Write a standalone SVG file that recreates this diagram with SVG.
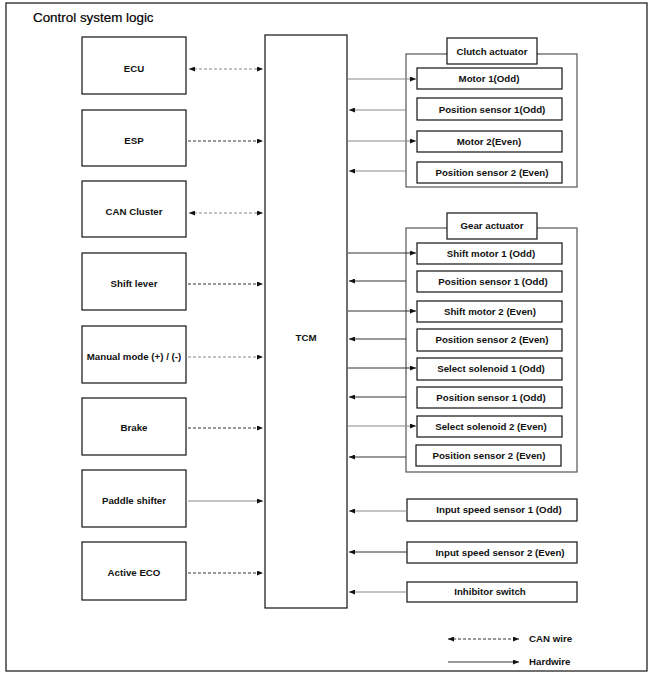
<svg xmlns="http://www.w3.org/2000/svg" width="654" height="678" viewBox="0 0 654 678">
<style>
text{font-family:"Liberation Sans",Arial,sans-serif;font-weight:bold;font-size:9.7px;fill:#111;text-anchor:middle}
.title{font-weight:normal;font-size:13.4px;text-anchor:start;fill:#000;stroke:#000;stroke-width:0.2}
.box{fill:#fff;stroke:#111;stroke-width:1.2}
.grp{fill:#fff;stroke:#555;stroke-width:1.2}
.w{fill:none;stroke:#333;stroke-width:1}
.g{fill:none;stroke:#888;stroke-width:1}
.d{stroke-dasharray:3,2}
</style>
<defs>
<marker id="ah" markerUnits="userSpaceOnUse" markerWidth="6" markerHeight="5" refX="6" refY="2.5" orient="auto-start-reverse"><path d="M0,0 L6,2.5 L0,5 z" fill="#111"/></marker>
</defs>
<rect x="6" y="3" width="641" height="668" fill="#fff" stroke="#111" stroke-width="1.2"/>
<text class="title" x="33" y="22">Control system logic</text>

<g id="ecu"><rect class="box" x="82" y="37" width="104" height="57"/><text x="134" y="72">ECU</text></g>
<g id="esp"><rect class="box" x="82" y="110" width="104" height="56"/><text x="134" y="144">ESP</text></g>
<g id="can-cluster"><rect class="box" x="82" y="181" width="104" height="56"/><text x="134" y="215">CAN Cluster</text></g>
<g id="shift-lever"><rect class="box" x="82" y="253" width="104" height="57"/><text x="134" y="287">Shift lever</text></g>
<g id="manual-mode"><rect class="box" x="82" y="326" width="104" height="57"/><text x="134" y="360">Manual mode (+) / (-)</text></g>
<g id="brake"><rect class="box" x="82" y="398" width="104" height="57"/><text x="134" y="431">Brake</text></g>
<g id="paddle-shifter"><rect class="box" x="82" y="470" width="104" height="57"/><text x="134" y="504">Paddle shifter</text></g>
<g id="active-eco"><rect class="box" x="82" y="542" width="104" height="58"/><text x="134" y="576">Active ECO</text></g>

<g id="tcm"><rect class="box" x="265" y="35" width="82" height="573"/><text x="306" y="341">TCM</text></g>

<g id="clutch-actuator">
<rect class="grp" x="406" y="54" width="171" height="133"/>
<rect class="box" x="447" y="38" width="90" height="26"/><text x="492" y="55">Clutch actuator</text>
</g>
<g id="motor1"><rect class="box" x="417" y="68" width="145" height="21"/><text x="489" y="82">Motor 1(Odd)</text></g>
<g id="clutch-pos1"><rect class="box" x="417" y="98" width="145" height="22"/><text x="492" y="113">Position sensor 1(Odd)</text></g>
<g id="motor2"><rect class="box" x="417" y="131" width="145" height="21"/><text x="489" y="145">Motor 2(Even)</text></g>
<g id="clutch-pos2"><rect class="box" x="417" y="162" width="145" height="21"/><text x="492" y="176">Position sensor 2 (Even)</text></g>

<g id="gear-actuator">
<rect class="grp" x="406" y="228" width="171" height="244"/>
<rect class="box" x="447" y="213" width="90" height="26"/><text x="492" y="229">Gear actuator</text>
</g>
<g id="shift-motor1"><rect class="box" x="417" y="243" width="145" height="21"/><text x="491" y="257">Shift motor 1 (Odd)</text></g>
<g id="gear-pos1a"><rect class="box" x="417" y="271" width="145" height="21"/><text x="493" y="285">Position sensor 1 (Odd)</text></g>
<g id="shift-motor2"><rect class="box" x="417" y="301" width="145" height="21"/><text x="490" y="315">Shift motor 2 (Even)</text></g>
<g id="gear-pos2a"><rect class="box" x="417" y="329" width="145" height="22"/><text x="492" y="343">Position sensor 2 (Even)</text></g>
<g id="select-sol1"><rect class="box" x="417" y="358" width="145" height="22"/><text x="491" y="372">Select solenoid 1 (Odd)</text></g>
<g id="gear-pos1b"><rect class="box" x="417" y="387" width="145" height="21"/><text x="491" y="401">Position sensor 1 (Odd)</text></g>
<g id="select-sol2"><rect class="box" x="417" y="416" width="145" height="21"/><text x="491" y="430">Select solenoid 2 (Even)</text></g>
<g id="gear-pos2b"><rect class="box" x="416" y="445" width="145" height="21"/><text x="489" y="459">Position sensor 2 (Even)</text></g>

<g id="input-speed1"><rect class="box" x="407" y="499" width="170" height="22"/><text x="499" y="513">Input speed sensor 1 (Odd)</text></g>
<g id="input-speed2"><rect class="box" x="407" y="542" width="170" height="21"/><text x="500" y="556">Input speed sensor 2 (Even)</text></g>
<g id="inhibitor"><rect class="box" x="407" y="582" width="170" height="20"/><text x="490" y="595">Inhibitor switch</text></g>

<g id="connectors">
<line class="g d" x1="189" y1="69" x2="263" y2="69" marker-start="url(#ah)" marker-end="url(#ah)"/>
<line class="w d" x1="188" y1="141" x2="263" y2="141" marker-end="url(#ah)"/>
<line class="g d" x1="189" y1="213" x2="263" y2="213" marker-start="url(#ah)" marker-end="url(#ah)"/>
<line class="w d" x1="188" y1="284" x2="263" y2="284" marker-end="url(#ah)"/>
<line class="g d" x1="188" y1="357" x2="263" y2="357" marker-end="url(#ah)"/>
<line class="w d" x1="188" y1="428" x2="263" y2="428" marker-end="url(#ah)"/>
<line class="g" x1="188" y1="501" x2="263" y2="501" marker-end="url(#ah)"/>
<line class="w d" x1="188" y1="573" x2="263" y2="573" marker-end="url(#ah)"/>

<line class="g" x1="348" y1="79" x2="416" y2="79" marker-end="url(#ah)"/>
<line class="g" x1="406" y1="110" x2="349" y2="110" marker-end="url(#ah)"/>
<line class="g" x1="348" y1="141" x2="416" y2="141" marker-end="url(#ah)"/>
<line class="g" x1="406" y1="171" x2="349" y2="171" marker-end="url(#ah)"/>

<line class="w" x1="348" y1="253" x2="416" y2="253" marker-end="url(#ah)"/>
<line class="w" x1="406" y1="281" x2="349" y2="281" marker-end="url(#ah)"/>
<line class="w" x1="348" y1="311" x2="416" y2="311" marker-end="url(#ah)"/>
<line class="w" x1="406" y1="339" x2="349" y2="339" marker-end="url(#ah)"/>
<line class="w" x1="348" y1="368" x2="416" y2="368" marker-end="url(#ah)"/>
<line class="w" x1="406" y1="397" x2="349" y2="397" marker-end="url(#ah)"/>
<line class="g" x1="348" y1="426" x2="416" y2="426" marker-end="url(#ah)"/>
<line class="w" x1="406" y1="457" x2="349" y2="457" marker-end="url(#ah)"/>

<line class="g" x1="407" y1="511" x2="349" y2="511" marker-end="url(#ah)"/>
<line class="w" x1="407" y1="552" x2="349" y2="552" marker-end="url(#ah)"/>
<line class="g" x1="407" y1="592" x2="349" y2="592" marker-end="url(#ah)"/>

<line class="w d" x1="448" y1="639" x2="519" y2="639" marker-start="url(#ah)" marker-end="url(#ah)"/>
<line class="w" x1="448" y1="662" x2="519" y2="662" marker-end="url(#ah)"/>
</g>
<text x="529" y="642" style="text-anchor:start">CAN wire</text>
<text x="529" y="665" style="text-anchor:start">Hardwire</text>
</svg>
